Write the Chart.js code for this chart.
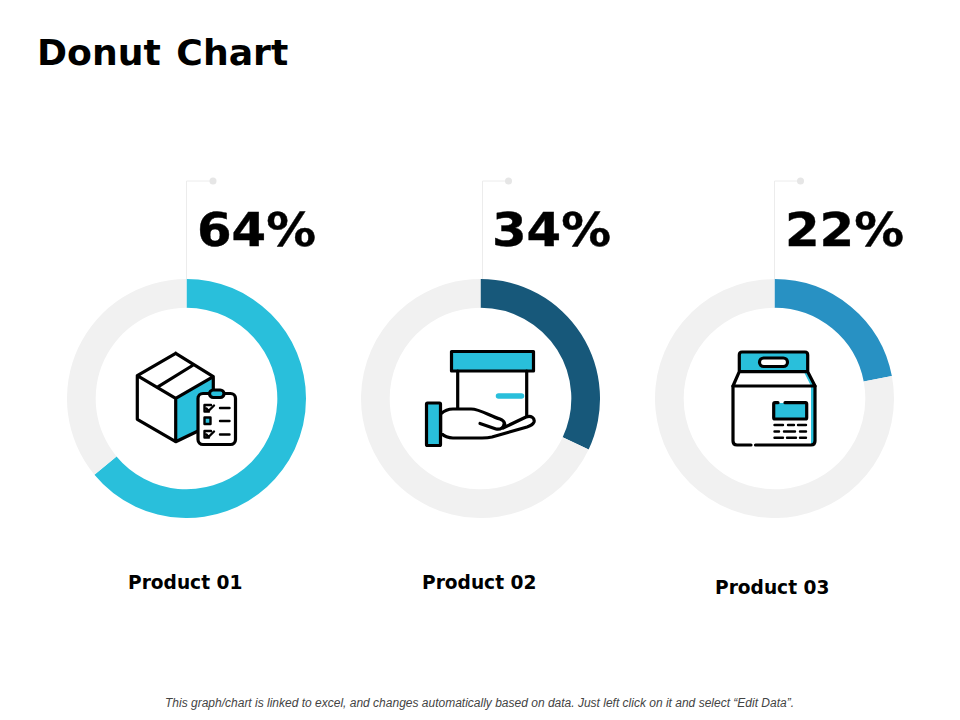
<!DOCTYPE html>
<html><head><meta charset="utf-8">
<script src="https://cdn.jsdelivr.net/npm/chart.js@4/dist/chart.umd.min.js"></script>
<style>
html,body{margin:0;padding:0;background:#fff;width:960px;height:720px;overflow:hidden}
.t{position:absolute;white-space:nowrap;color:#000;font-family:"DejaVu Sans";font-weight:700;line-height:1}
.pct{font-size:46.5px;top:206.5px;transform:scaleX(1.07);transform-origin:0 50%;-webkit-text-stroke:0.4px #000}
canvas{position:absolute;top:279px;width:239px;height:239px}
svg{position:absolute;left:0;top:0}
.i{fill:none;stroke:#000;stroke-width:3.2;stroke-linejoin:round;stroke-linecap:round}
.b{fill:#29BFDB}.w{fill:#fff}
</style></head><body>
<div class="t" style="left:37px;top:35px;font-size:36.2px;word-spacing:3px">Donut Chart</div>
<div class="t pct" id="p0" style="left:197px"></div>
<div class="t pct" id="p1" style="left:492px"></div>
<div class="t pct" id="p2" style="left:785px"></div>
<div class="t" id="n0" style="left:128px;top:573.5px;font-size:18.6px"></div>
<div class="t" id="n1" style="left:422px;top:573.5px;font-size:18.6px"></div>
<div class="t" id="n2" style="left:715px;top:578.5px;font-size:18.6px"></div>
<div class="t" style="left:165px;top:697px;font-size:12px;font-family:'Liberation Sans';font-weight:400;font-style:italic;color:#444">This graph/chart is linked to excel, and changes automatically based on data. Just left click on it and select “Edit Data”.</div>
<canvas id="c0" width="239" height="239" style="left:67px"></canvas>
<canvas id="c1" width="239" height="239" style="left:361px"></canvas>
<canvas id="c2" width="239" height="239" style="left:655px"></canvas>
<svg width="960" height="720" viewBox="0 0 960 720">
<g fill="none" stroke="#ECECEC" stroke-width="1">
<path d="M186.5 279V181H212"/><path d="M482.5 279V181H508"/><path d="M774.5 279V181H800"/></g>
<g fill="#E6E6E6"><circle cx="213" cy="181" r="3.5"/><circle cx="508.5" cy="181" r="3.5"/><circle cx="800.5" cy="181" r="3.5"/></g>
<!-- icon 1 -->
<path class="b" d="M175.7 398.3L213.3 376.7V395H197V431.5L175.7 441.7Z"/>
<g class="i"><path d="M175.7 353.3L137.3 375.7V419.3L175.7 441.7L197 431.5M175.7 353.3L213.3 376.7V393M137.3 375.7L175.7 398.3L213.3 376.7M175.7 398.3V441.7M158.3 386.7L193.3 365"/>
<rect class="w" x="198" y="393.5" width="37.5" height="51" rx="5"/>
<rect class="b" x="209.5" y="390" width="14.5" height="7.5" rx="3.7"/>
<rect class="b" x="204.5" y="417.5" width="6" height="6.5" style="stroke-width:2.4"/>
<path style="stroke-width:2.4" d="M211 405H204.5V411.5H209M206.5 408.5L208.5 411L214 405.5M211 431H204.5V437.5H209M206.5 434.5L208.5 437L214 431.5M220 408H229.5M220 421H229.5M220 434.5H229.5"/></g>
<!-- icon 2 -->
<path d="M498.5 396H521.5" style="stroke:#29BFDB;stroke-width:5.5;stroke-linecap:round;fill:none"/>
<g class="i"><rect class="b" x="451.5" y="351.5" width="82" height="19.5"/>
<path d="M457.7 371V409M526.7 371V416"/>
<rect class="b" x="426.5" y="403" width="14" height="42.5" rx="1"/>
<path class="w" d="M440.7 414C445 410 448 409 453 409H471C480 409 490 416 500 419C505 421 506 425 503 428L526 417C531 415 535 418 534 422C533 425 530 426 527 427L492 437C488 438 486 438 482 438H453C447 438 444 436 440.7 433Z"/>
<path d="M480 423.5L496 429C501 430 504 427 504 424"/></g>
<!-- icon 3 -->
<path class="b" d="M739.3 371.7V355Q739.3 352 742 352H805Q807.7 352 807.7 355V371.7Z"/>
<path class="b" d="M807.7 371.7L815 386V445H811V386L804 372Z"/>
<rect class="b" x="774" y="403" width="32" height="15.5"/>
<g class="i"><path d="M733 386L739.3 371.7V355Q739.3 352 742 352H805Q807.7 352 807.7 355V371.7L815 386M739.3 371.7H807.7M733 386H815"/>
<rect class="w" x="759.5" y="358" width="28" height="8.5" rx="4.2"/>
<path d="M733 386V441Q733 445 737 445H751M755.5 445H811Q815 445 815 441V386"/>
<path d="M778 402.7H775Q773.7 402.7 773.7 404V417.7Q773.7 419 775 419H805.5Q806.7 419 806.7 417.7V404Q806.7 402.7 805.5 402.7H785"/>
<path style="stroke-width:2.4" d="M774.5 425H783M788 425H794M798 425H806M774.5 431.5H779M784 431.5H795M800 431.5H806M774.5 437.7H783M787 437.7H796M800 437.7H806"/></g>
</svg>
<script>
const categories = ["Product 01", "Product 02", "Product 03"];
const shownLabels = ["64%", "34%", "22%"];
const filledValues = [64, 32, 22];
const remainderValues = [36, 68, 78];
const fillColors = ["#29BFDB", "#17587A", "#2891C3"];
const trackColor = "#F1F1F1";
categories.forEach((name, i) => {
  document.getElementById("n" + i).textContent = name;
  document.getElementById("p" + i).textContent = shownLabels[i];
  new Chart(document.getElementById("c" + i), {
    type: "doughnut",
    data: {
      labels: [name, "Remainder"],
      datasets: [{
        data: [filledValues[i], remainderValues[i]],
        backgroundColor: [fillColors[i], trackColor],
        borderWidth: 0
      }]
    },
    options: {
      responsive: false,
      animation: false,
      cutout: "76%",
      events: [],
      plugins: { legend: { display: false }, tooltip: { enabled: false } }
    }
  });
});
</script>
</body></html>
